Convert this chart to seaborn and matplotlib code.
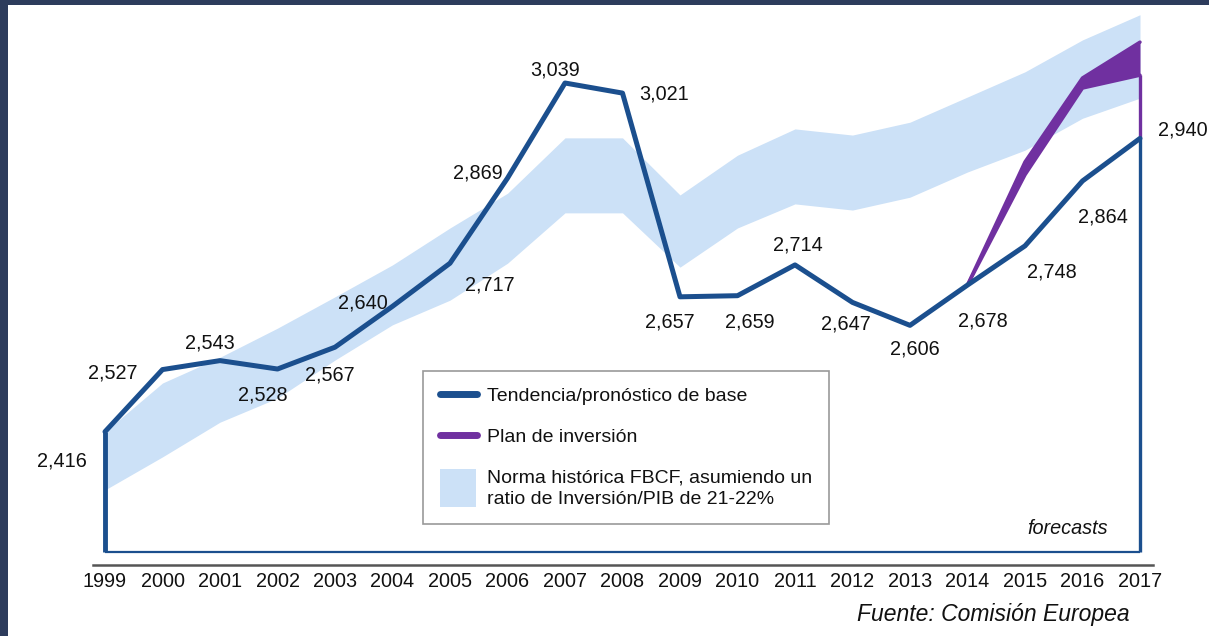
import matplotlib
matplotlib.use("Agg")
import matplotlib.pyplot as plt
import seaborn as sns
from matplotlib.lines import Line2D
from matplotlib.patches import Patch, Rectangle
from matplotlib.legend_handler import HandlerPatch

# datos (miles de millones de euros, FBCF UE)
years = list(range(1999, 2018))
base = [2416, 2527, 2543, 2528, 2567, 2640, 2717, 2869, 3039, 3021,
        2657, 2659, 2714, 2647, 2606, 2678, 2748, 2864, 2940]
band_low = [2312, 2371, 2433, 2476, 2544, 2607, 2651, 2717, 2807, 2807,
            2710, 2780, 2823, 2812, 2835, 2880, 2919, 2976, 3012]
band_high = [2416, 2503, 2549, 2601, 2657, 2714, 2780, 2842, 2941, 2941,
             2839, 2910, 2957, 2946, 2969, 3014, 3059, 3116, 3161]
plan_years = [2014, 2015, 2016, 2017]
plan_low = [2678, 2875, 3030, 3053]
plan_high = [2678, 2898, 3048, 3112]
area_floor = 2201

legend_labels = ["Tendencia/pronóstico de base",
                 "Plan de inversión",
                 "Norma histórica FBCF, asumiendo un\nratio de Inversión/PIB de 21-22%"]

# desplazamiento de cada etiqueta respecto a su punto (px)
label_dx = [-43, -50, -10, -15, -5, -30, 40, -30, -10, 42, -10, 12, 3, -7, 5, 15, 27, 20, 43]
label_dy = [29, 3, -18, 26, 28, -3, 22, -5, -13, 1, 25, 26, -20, 22, 24, 36, 26, 36, -8]

BLUE = "#1b4f8e"
PURPLE = "#7030a0"
BAND = "#cce1f7"
W, H = 1209, 636

sns.set_theme(style="white")
plt.rcParams["font.family"] = ["Liberation Sans", "DejaVu Sans"]

fig = plt.figure(figsize=(W / 100, H / 100), dpi=100)
fig.patch.set_facecolor("#2d3c5c")
fig.add_artist(Rectangle((8 / W, 0), 1, (H - 5) / H, transform=fig.transFigure,
                         facecolor="white", edgecolor="none", zorder=0))

ax = fig.add_axes([93 / W, (H - 565) / H, (1153 - 93) / W, (565 - 5) / H])
ax.set_facecolor("none")
ax.set_xlim(1999 - 12 / 57.5, 2017 + 13 / 57.5)
ax.set_ylim(2416 - (565 - 431.7) / 0.5597, 2416 + (431.7 - 5) / 0.5597)

# banda histórica
ax.fill_between(years, band_low, band_high, color=BAND, lw=0, zorder=2)

# área base (contorno)
ax.hlines(area_floor, years[0], years[-1], color=BLUE, lw=1.6, zorder=3)
ax.vlines(years[0], area_floor, base[0], color=BLUE, lw=3.5, zorder=3)
ax.vlines(years[-1], area_floor, base[-1], color=BLUE, lw=2.4, zorder=3)

# plan de inversión
ax.fill_between(plan_years, plan_low, plan_high, color=PURPLE, lw=0, zorder=3.5)
sns.lineplot(x=plan_years, y=plan_low, color=PURPLE, lw=2.5, ax=ax, zorder=3.6)
sns.lineplot(x=plan_years, y=plan_high, color=PURPLE, lw=2.5, ax=ax, zorder=3.6)
ax.vlines(plan_years[-1], base[-1], plan_low[-1], color=PURPLE, lw=2.4, zorder=3.6)

# tendencia base
sns.lineplot(x=years, y=base, color=BLUE, lw=3.6, ax=ax, zorder=4)

for yr, v, dx, dy in zip(years, base, label_dx, label_dy):
    ax.annotate(f"{v:,}", (yr, v), xytext=(dx, -dy), textcoords="offset pixels",
                ha="center", va="center", fontsize=14.3, color="#111111",
                annotation_clip=False, zorder=5)

for s in ["left", "right", "top"]:
    ax.spines[s].set_visible(False)
ax.spines["bottom"].set_color("#555555")
ax.spines["bottom"].set_linewidth(1.8)
ax.set_yticks([])
ax.set_xticks(years)
ax.set_xticklabels([str(y) for y in years])
ax.tick_params(axis="x", length=0, pad=5, labelsize=14.3, labelcolor="#111111")


def tall_patch(legend, orig_handle, xdescent, ydescent, width, height, fontsize):
    h = 1.95 * fontsize
    return Rectangle((-xdescent, -ydescent + height / 2 - h / 2), width * 0.95, h)


handles = [Line2D([], [], color=BLUE, lw=5),
           Line2D([], [], color=PURPLE, lw=5),
           Patch(facecolor=BAND, edgecolor="none")]
leg = ax.legend(handles, legend_labels, loc="upper left",
                bbox_to_anchor=((423 - 93) / 1060, (565 - 371) / 560),
                fontsize=14, frameon=True, fancybox=False, framealpha=1,
                edgecolor="#999999", borderpad=0.85, labelspacing=1.2,
                handlelength=1.95, handletextpad=0.5, borderaxespad=0,
                handler_map={Patch: HandlerPatch(patch_func=tall_patch)})
leg.get_frame().set_linewidth(1.2)
for t in leg.get_texts():
    t.set_color("#111111")
    t.set_linespacing(1.35)

fig.text(1108 / W, 1 - 528 / H, "forecasts", ha="right", va="center",
         style="italic", fontsize=14.3, color="#111111")
fig.text(1130 / W, 1 - 615 / H, "Fuente: Comisión Europea", ha="right", va="center",
         style="italic", fontsize=16.5, color="#111111")

fig.savefig("out.png", dpi=100, facecolor=fig.get_facecolor())
